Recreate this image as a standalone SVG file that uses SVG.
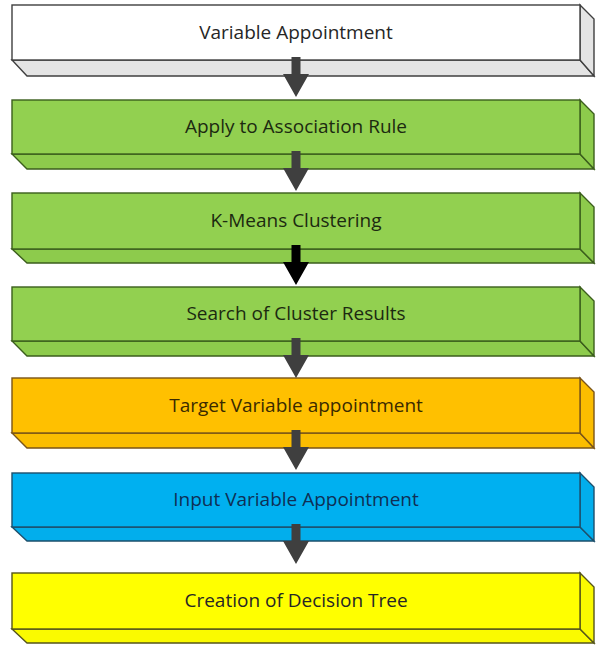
<svg xmlns="http://www.w3.org/2000/svg" width="597" height="645" viewBox="0 0 597 645">
  <style>
    .lbl { font-family: "Open Sans", "Liberation Sans", Arial, sans-serif; font-size: 19px; text-anchor: middle; }
    .edge { stroke-width: 1.4; stroke-linejoin: miter; }
    .white .face { fill: #ffffff; stroke: #3f3f3f; }
    .white .side { fill: #e4e4e4; stroke: #3f3f3f; }
    .white text { fill: #262626; }
    .green .face { fill: #92d050; stroke: #3b5e1c; }
    .green .side { fill: #8dcb4c; stroke: #3b5e1c; }
    .green text { fill: #1c2a10; }
    .orange .face { fill: #ffc000; stroke: #7a5418; }
    .orange .side { fill: #fbbd00; stroke: #7a5418; }
    .orange text { fill: #3a2a00; }
    .blue .face { fill: #00b0f0; stroke: #1d4f6b; }
    .blue .side { fill: #02aeec; stroke: #1d4f6b; }
    .blue text { fill: #0f2f55; }
    .yellow .face { fill: #ffff00; stroke: #55551a; }
    .yellow .side { fill: #fafa00; stroke: #55551a; }
    .yellow text { fill: #262626; }
  </style>
  <defs>
    <!-- down arrow, origin at shaft top centre -->
    <path id="arrow" d="M-4.5,0 H4.5 V17 H13 L0,40 L-13,17 H-4.5 Z"/>
  </defs>

  <!-- step 1 -->
  <g id="n1" class="white edge">
    <polygon class="side" points="12,60 580,60 594,76 27,76"/>
    <polygon class="side" points="580,5 594,19 594,76 580,60"/>
    <rect class="face" x="12" y="5" width="568" height="55"/>
    <text class="lbl" x="296" y="39">Variable Appointment</text>
  </g>

  <!-- step 2 -->
  <g id="n2" class="green edge">
    <polygon class="side" points="12,154 580,154 594,169 27,169"/>
    <polygon class="side" points="580,100 594,114 594,169 580,154"/>
    <rect class="face" x="12" y="100" width="568" height="54"/>
    <text class="lbl" x="296" y="133">Apply to Association Rule</text>
  </g>

  <!-- step 3 -->
  <g id="n3" class="green edge">
    <polygon class="side" points="12,249 580,249 594,263 27,263"/>
    <polygon class="side" points="580,193 594,207 594,263 580,249"/>
    <rect class="face" x="12" y="193" width="568" height="56"/>
    <text class="lbl" x="296" y="227">K-Means Clustering</text>
  </g>

  <!-- step 4 -->
  <g id="n4" class="green edge">
    <polygon class="side" points="12,341 580,341 594,356 27,356"/>
    <polygon class="side" points="580,287 594,301 594,356 580,341"/>
    <rect class="face" x="12" y="287" width="568" height="54"/>
    <text class="lbl" x="296" y="320">Search of Cluster Results</text>
  </g>

  <!-- step 5 -->
  <g id="n5" class="orange edge">
    <polygon class="side" points="12,433 580,433 594,448 27,448"/>
    <polygon class="side" points="580,378 594,392 594,448 580,433"/>
    <rect class="face" x="12" y="378" width="568" height="55"/>
    <text class="lbl" x="296" y="412">Target Variable appointment</text>
  </g>

  <!-- step 6 -->
  <g id="n6" class="blue edge">
    <polygon class="side" points="12,527 580,527 594,541 27,541"/>
    <polygon class="side" points="580,473 594,487 594,541 580,527"/>
    <rect class="face" x="12" y="473" width="568" height="54"/>
    <text class="lbl" x="296" y="506">Input Variable Appointment</text>
  </g>

  <!-- step 7 -->
  <g id="n7" class="yellow edge">
    <polygon class="side" points="12,629 580,629 594,643 27,643"/>
    <polygon class="side" points="580,573 594,587 594,643 580,629"/>
    <rect class="face" x="12" y="573" width="568" height="56"/>
    <text class="lbl" x="296" y="607">Creation of Decision Tree</text>
  </g>

  <!-- connectors -->
  <g id="connectors" fill="#3f3f3f">
    <use href="#arrow" x="296" y="57"/>
    <use href="#arrow" x="296" y="151"/>
    <use href="#arrow" x="296" y="245" fill="#000000"/>
    <use href="#arrow" x="296" y="338"/>
    <use href="#arrow" x="296" y="430"/>
    <use href="#arrow" x="296" y="524"/>
  </g>
</svg>
